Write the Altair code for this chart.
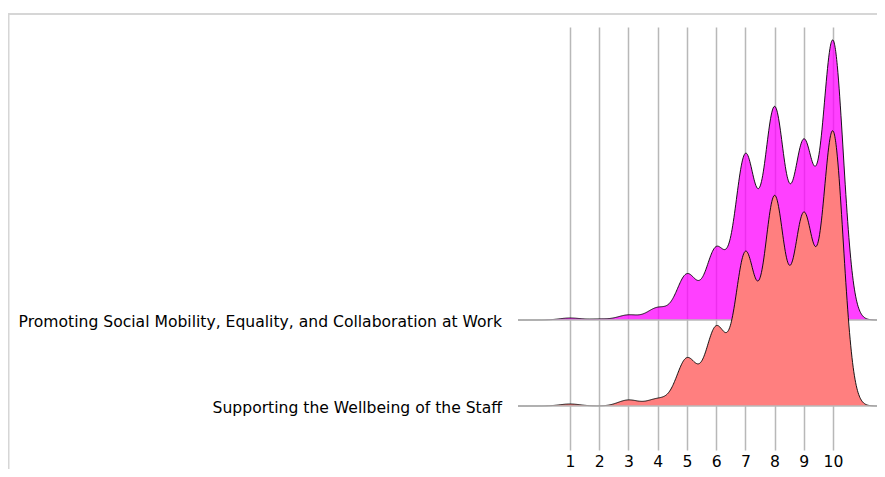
import altair as alt
import pandas as pd

# ---- data ----
RATINGS = [1, 2, 3, 4, 5, 6, 7, 8, 9, 10]
CATEGORIES = [
    "Promoting Social Mobility, Equality, and Collaboration at Work",
    "Supporting the Wellbeing of the Staff",
]
COUNTS_PROMOTING = [2, 1, 5, 12, 45, 70, 162, 208, 173, 277]
COUNTS_WELLBEING = [2, 0, 6, 7, 47, 77, 150, 205, 186, 272]
COLORS = ["#ff00ff", "#ff7f7f"]
OPACITIES = [0.75, 1.0]

# ---- layout / style constants ----
W, H = 359, 423
PAD_L, PAD_T, PAD_R, PAD_B = 510, 19, 0, 19
X_DOMAIN = [-0.78, 11.506]
ROW_SPACING = 86
Y_DOMAIN = [-44, 379]
BANDWIDTH = 0.35
DENS_SCALE = BANDWIDTH * (2 * 3.141592653589793) ** 0.5
FONT = "DejaVu Sans"
FS = 15.6

counts = [COUNTS_PROMOTING, COUNTS_WELLBEING]
n = len(CATEGORIES)
rows = []
for gi, (cat, cs) in enumerate(zip(CATEGORIES, counts)):
    for r, c in zip(RATINGS, cs):
        rows += [{"group": cat, "rating": r}] * c
obs = pd.DataFrame(rows)

label_df = pd.DataFrame({
    "group": CATEGORIES,
    "base": [(n - 1 - i) * ROW_SPACING for i in range(n)],
})

xscale = alt.Scale(domain=X_DOMAIN, nice=False, zero=False)
yscale = alt.Scale(domain=Y_DOMAIN, nice=False, zero=False)

xaxis = alt.Axis(
    values=RATINGS, title=None, domain=False, ticks=False,
    labelPadding=4, labelFont=FONT, labelFontSize=FS, labelColor="black",
    grid=True, gridColor="#b8b8b8", gridWidth=1.5, labelFlush=False,
)

layers = []
for i, cat in enumerate(CATEGORIES):
    base = (n - 1 - i) * ROW_SPACING
    dens = (
        alt.Chart(obs)
        .transform_filter(alt.datum.group == cat)
        .transform_density(
            "rating", as_=["rating", "density"], bandwidth=BANDWIDTH,
            extent=[-0.78, 11.78], steps=600, counts=True,
        )
        .transform_calculate(
            y=f"{base} + datum.density * {DENS_SCALE}", y0=f"{base}"
        )
    )
    area = dens.mark_area(color=COLORS[i], opacity=OPACITIES[i], interpolate="monotone", clip=True).encode(
        x=alt.X("rating:Q", scale=xscale, axis=xaxis),
        y=alt.Y("y:Q", scale=yscale, axis=None),
        y2="y0:Q",
    )
    line = dens.mark_line(color="black", strokeWidth=0.9, interpolate="monotone", clip=True).encode(
        x=alt.X("rating:Q", scale=xscale, axis=xaxis),
        y=alt.Y("y:Q", scale=yscale, axis=None),
    )
    baseline = (
        alt.Chart(label_df)
        .transform_filter(alt.datum.group == cat)
        .mark_rule(color="#b8b8b8", strokeWidth=1.5)
        .encode(y=alt.Y("base:Q", scale=yscale, axis=None))
    )
    layers += [area, line, baseline]

labels = alt.Chart(label_df).mark_text(
    align="right", baseline="middle", font=FONT, fontSize=FS, color="black", dy=2
).encode(
    x=alt.value(-16),
    y=alt.Y("base:Q", scale=yscale, axis=None),
    text="group:N",
)
layers.append(labels)

frame_src = pd.DataFrame({"k": [0]})
frame_top = alt.Chart(frame_src).mark_rule(color="#d6d6d6", strokeWidth=2).encode(
    x=alt.value(-PAD_L), x2=alt.value(W), y=alt.value(-13)
)
frame_left = alt.Chart(frame_src).mark_rule(color="#d6d6d6", strokeWidth=2).encode(
    x=alt.value(-PAD_L + 0.5), y=alt.value(-14), y2=alt.value(H + PAD_B)
)
layers += [frame_top, frame_left]

chart = (
    alt.layer(*layers)
    .properties(
        width=W, height=H,
        autosize=alt.AutoSizeParams(type="none"),
        padding={"left": PAD_L, "top": PAD_T, "right": PAD_R, "bottom": PAD_B},
    )
    .configure(background="white")
    .configure_view(stroke=None)
)

chart.save("out.html", embed_options={"renderer": "svg", "actions": False})
